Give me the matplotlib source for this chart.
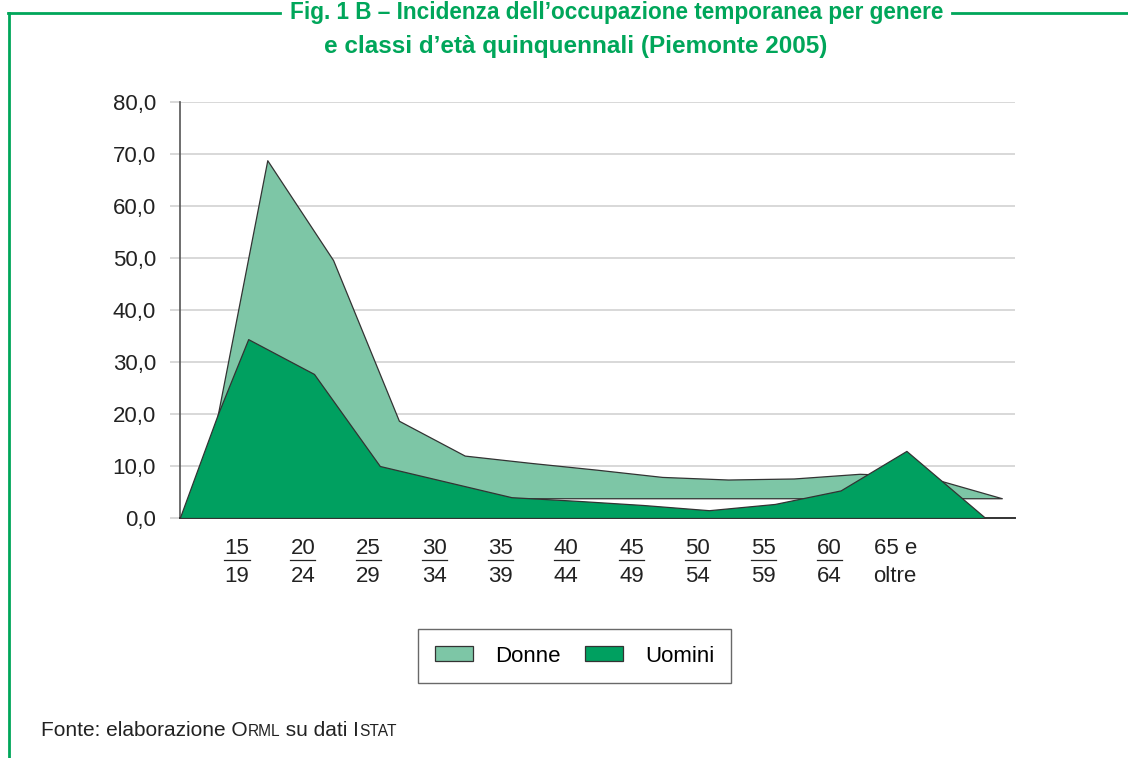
import numpy as np
import matplotlib
matplotlib.use("Agg")
import matplotlib.pyplot as plt
from matplotlib.lines import Line2D
from matplotlib.offsetbox import TextArea, HPacker, AnchoredOffsetbox
import matplotlib.transforms as mtransforms

plt.rcParams['font.family'] = ['Liberation Sans', 'DejaVu Sans']

# classi d'età (riga superiore / inferiore)
age_top = ["15", "20", "25", "30", "35", "40", "45", "50", "55", "60", "65 e"]
age_bot = ["19", "24", "29", "34", "39", "44", "49", "54", "59", "64", "oltre"]

# valori (%)
donne = [68.8, 49.6, 18.7, 12.0, 10.6, 9.3, 7.9, 7.4, 7.6, 8.5, 8.0]
uomini = [34.4, 27.7, 10.0, 7.0, 4.0, 3.3, 2.5, 1.5, 2.7, 5.3, 12.9]

# estremi delle aree come appaiono nella figura originale
donne_base = 3.8
donne_head = ([-0.46, -0.29], [3.8, 20.0])
donne_tail = ([11.62], [3.8])
uomini_head = ([-0.87, -0.29], [0.0, 20.0])
uomini_tail = ([11.37], [0.0])

C_DONNE = "#7dc6a6"
C_UOMINI = "#00a060"
C_GREEN = "#00a65a"
C_EDGE = "#333333"
C_GRID = "#d2d2d2"
FS = 16

fig = plt.figure(figsize=(11.28, 7.58), dpi=100)
W, H = 1128, 758
ax = fig.add_axes([180 / W, 1 - 518 / H, (1015 - 180) / W, (518 - 102) / H])

idx = np.arange(len(donne))
xd = np.concatenate([donne_head[0], idx + 0.46, donne_tail[0]])
yd = np.concatenate([donne_head[1], donne, donne_tail[1]])
xu = np.concatenate([uomini_head[0], idx + 0.17, uomini_tail[0]])
yu = np.concatenate([uomini_head[1], uomini, uomini_tail[1]])

ax.fill_between(xd, donne_base, yd, facecolor=C_DONNE, edgecolor=C_EDGE,
                linewidth=0.9, zorder=2)
ax.fill_between(xu, 0, yu, facecolor=C_UOMINI, edgecolor=C_EDGE,
                linewidth=0.9, zorder=3)

ax.set_xlim(-0.866, 11.82)
ax.set_ylim(0, 80)
ax.set_yticks(np.arange(0, 81, 10))
ax.set_yticklabels([f"{v:.1f}".replace(".", ",") for v in np.arange(0, 81, 10)])
ax.grid(axis="y", color=C_GRID, linewidth=1.2, zorder=0)
ax.set_axisbelow(True)
ax.tick_params(axis="y", length=7.2, width=1.2, color=C_GRID, pad=10,
               labelsize=FS, labelcolor="#222222")
ax.yaxis.get_major_ticks()[0].tick1line.set_color("#444444")
ax.set_xticks([])
for s in ["top", "right"]:
    ax.spines[s].set_visible(False)
ax.spines["left"].set_color("#555555")
ax.spines["bottom"].set_color("#333333")
ax.spines["left"].set_linewidth(1.2)
ax.spines["bottom"].set_linewidth(1.4)

trans = mtransforms.blended_transform_factory(ax.transData, ax.transAxes)
y1 = (518 - 549) / 416
y2 = (518 - 577) / 416
yl = (518 - 559.5) / 416
for i, (a, b) in enumerate(zip(age_top, age_bot)):
    ax.text(i, y1, a, transform=trans, ha="center", va="center",
            fontsize=FS, color="#222222")
    ax.text(i, y2, b, transform=trans, ha="center", va="center",
            fontsize=FS, color="#222222")
    if i < len(age_top) - 1:
        ax.plot([i - 0.19, i + 0.19], [yl, yl], transform=trans,
                color="#222222", linewidth=0.9, clip_on=False)

# legenda
handles = [plt.Rectangle((0, 0), 1, 1, facecolor=C_DONNE, edgecolor=C_EDGE, linewidth=0.9),
           plt.Rectangle((0, 0), 1, 1, facecolor=C_UOMINI, edgecolor=C_EDGE, linewidth=0.9)]
leg = fig.legend(handles, ["Donne", "Uomini"], loc="center",
                 bbox_to_anchor=(574.5 / W, 1 - 656 / H), ncol=2,
                 frameon=True, fancybox=False, edgecolor="#444444",
                 fontsize=FS, handlelength=1.7, handleheight=0.65,
                 columnspacing=1.1, handletextpad=1.0, borderpad=0.75,
                 borderaxespad=0)
leg.get_frame().set_linewidth(1.0)

# titolo
fig.text(617 / W, 1 - 12 / H, "Fig. 1 B \u2013 Incidenza dell\u2019occupazione temporanea per genere",
         ha="center", va="center", fontsize=16.3, fontweight="bold", color=C_GREEN)
fig.text(576 / W, 1 - 47 / H, "e classi d\u2019età quinquennali (Piemonte 2005)",
         ha="center", va="center", fontsize=17.5, fontweight="bold", color=C_GREEN)

# cornice
fig.add_artist(Line2D([9 / W, 9 / W], [0, 1 - 13 / H], transform=fig.transFigure,
                      color=C_GREEN, linewidth=2.0))
fig.add_artist(Line2D([8 / W, 280 / W], [1 - 13 / H, 1 - 13 / H], transform=fig.transFigure,
                      color=C_GREEN, linewidth=2.0))
fig.add_artist(Line2D([952 / W, 1], [1 - 13 / H, 1 - 13 / H], transform=fig.transFigure,
                      color=C_GREEN, linewidth=2.0))

# fonte
small = 11.2
big = 15
parts = [TextArea("Fonte: elaborazione O", textprops=dict(size=big, color="#222222")),
         TextArea("RML", textprops=dict(size=small, color="#222222")),
         TextArea("\u00a0su dati I", textprops=dict(size=big, color="#222222")),
         TextArea("STAT", textprops=dict(size=small, color="#222222"))]
box = HPacker(children=parts, align="baseline", pad=0, sep=0)
anch = AnchoredOffsetbox(loc="center left", child=box, pad=0, frameon=False,
                         bbox_to_anchor=(41 / W, 1 - 731 / H),
                         bbox_transform=fig.transFigure, borderpad=0)
fig.add_artist(anch)

fig.savefig("out.png", dpi=100)
